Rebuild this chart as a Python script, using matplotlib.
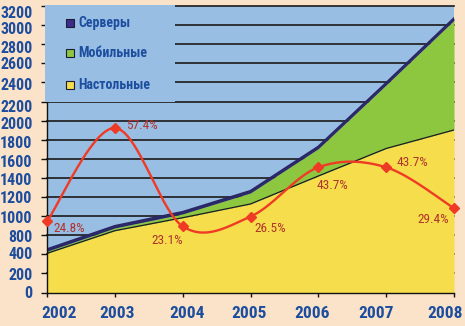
import numpy as np
import matplotlib
matplotlib.use("Agg")
import matplotlib.pyplot as plt
from matplotlib.patches import Rectangle
from matplotlib.transforms import ScaledTranslation

# --- data -------------------------------------------------------------
years = [2002, 2003, 2004, 2005, 2006, 2007, 2008]
desktop = [410, 647, 783, 927, 1220, 1508, 1702]
mobile = [22, 29, 40, 116, 287, 666, 1149]
servers = [20, 20, 20, 20, 20, 20, 20]
growth_pct = [24.8, 57.4, 23.1, 26.5, 43.7, 43.7, 29.4]

series_names = ["Серверы", "Мобильные", "Настольные"]
ytick_labels = ["0", "200", "400", "800", "1000", "1200", "1400", "1600",
                "1800", "2000", "2200", "2400", "2600", "2800", "3000", "3200"]

# --- style ------------------------------------------------------------
BG = "#FBE3C9"
PLOT_BG = "#99BEE3"
YELLOW = "#F5DD4B"
GREEN = "#8DC63F"
NAVY = "#2A2766"
SERVER_SQ = "#3B2E86"
RED = "#EF3B25"
PCT_TXT = "#B0322C"
AXIS_TXT = "#1C4D9E"
NARROW = ["Roboto Condensed", "Open Sans Condensed", "Liberation Sans"]

fig = plt.figure(figsize=(4.65, 3.26), dpi=100, facecolor=BG)
ax = fig.add_axes([47 / 465, 1 - 292.5 / 326, (454 - 47) / 465, (292.5 - 6) / 326])
ax.set_facecolor(PLOT_BG)

x = np.array(years, dtype=float)
d = np.array(desktop, dtype=float)
m = np.array(mobile, dtype=float)
s = np.array(servers, dtype=float)

# stacked areas
ax.fill_between(x, 0, d, color=YELLOW, lw=0, zorder=1)
ax.fill_between(x, d, d + m, color=GREEN, lw=0, zorder=1)
ax.fill_between(x, d + m, d + m + s, color=NAVY, lw=0, zorder=1)
ax.plot(x, d, color="#1E1E1E", lw=0.9, zorder=1.5)
ax.plot(x, d + m + s, color=NAVY, lw=1.6, zorder=1.5)

# y axis: evenly spaced ticks carrying the printed labels
ticks = np.arange(len(ytick_labels)) * 200
ax.set_yticks(ticks)
ax.set_yticklabels(ytick_labels)
ax.set_ylim(0, ticks[-1])
ax.set_xlim(years[0], years[-1])
ax.set_xticks(years)
ax.set_xticklabels([str(y) for y in years])

for t in ticks[1:]:
    ax.axhline(t, color="#1A1A1A", lw=1.2, zorder=0.5, clip_on=False)

ax.spines["right"].set_visible(False)
ax.spines["top"].set_visible(False)
for side in ("left", "bottom"):
    ax.spines[side].set_color("#111111")
    ax.spines[side].set_linewidth(1.0)

ax.tick_params(axis="y", length=4, width=1, color="#111111", pad=6.5,
               labelcolor=AXIS_TXT, labelsize=11.5)
ax.tick_params(axis="x", length=3, width=1, color="#111111", pad=6.5,
               labelcolor=AXIS_TXT, labelsize=12.5)

# label nudges in pixels
ylab_dy = [0, -1, 1, -1, -1, 0, -1, -2, -2, -2, -4, -2, 0, -3, -3, -6]
xlab_dx = [12.2, 2.3, 4.7, -1.2, -6.3, -9.7, -9.3]
for lab, dy in zip(ax.get_yticklabels(), ylab_dy):
    lab.set_family(NARROW)
    lab.set_fontweight("bold")
    lab.set_transform(lab.get_transform() +
                      ScaledTranslation(0, dy / 100, fig.dpi_scale_trans))
for lab, dx in zip(ax.get_xticklabels(), xlab_dx):
    lab.set_family(NARROW)
    lab.set_fontweight("bold")
    lab.set_transform(lab.get_transform() +
                      ScaledTranslation(dx / 100, 0, fig.dpi_scale_trans))

# legend block in the upper-left corner
ax.add_patch(Rectangle((-0.004, 0.665), 0.319, 0.34, transform=ax.transAxes,
                       facecolor=PLOT_BG, edgecolor="none", zorder=3, clip_on=False))
legend_colors = [SERVER_SQ, GREEN, YELLOW]
legend_y = [1 - (23 - 6) / 286.5, 1 - (53 - 6) / 286.5, 1 - (85 - 6) / 286.5]
for name, col, ly in zip(series_names, legend_colors, legend_y):
    ax.plot([(70 - 47) / 407], [ly], marker="s", ms=5.2, mfc=col, mec="#1B1B3A",
            mew=0.8, transform=ax.transAxes, zorder=4, clip_on=False)
    ax.text((78 - 47) / 407, ly, name, transform=ax.transAxes, ha="left",
            va="center", color=AXIS_TXT, fontsize=10, fontweight="bold",
            family=NARROW, zorder=4)


# growth curve on its own percentage scale
def smooth_curve(xs, ys, n=40):
    xs = np.asarray(xs, float)
    ys = np.asarray(ys, float)
    px, py = [], []
    k = len(xs)
    for i in range(k - 1):
        i0, i3 = max(i - 1, 0), min(i + 2, k - 1)
        p0 = np.array([xs[i0], ys[i0]])
        p1 = np.array([xs[i], ys[i]])
        p2 = np.array([xs[i + 1], ys[i + 1]])
        p3 = np.array([xs[i3], ys[i3]])
        c1 = p1 + (p2 - p0) / 6
        c2 = p2 - (p3 - p1) / 6
        t = np.linspace(0, 1, n)[:, None]
        seg = ((1 - t) ** 3) * p1 + 3 * ((1 - t) ** 2) * t * c1 + \
            3 * (1 - t) * t ** 2 * c2 + t ** 3 * p2
        px.extend(seg[:, 0])
        py.extend(seg[:, 1])
    return np.array(px), np.array(py)


ax2 = ax.twinx()
ax2.set_ylim(0, 100)
ax2.set_xlim(years[0], years[-1])
ax2.axis("off")
cx, cy = smooth_curve(years, growth_pct)
ax2.plot(cx, cy, color=RED, lw=1.7, zorder=4, clip_on=False)
ax2.plot(years, growth_pct, ls="none", marker="D", ms=5.5, color=RED,
         zorder=5, clip_on=False)

# value labels: (dx, dy) in pixels, horizontal alignment
label_offsets = [(6, -6.6, "left"), (11, 2.7, "left"), (0, -14, "right"),
                 (4, -11.6, "left"), (-2, -18, "left"), (10, 5, "left"),
                 (-4.7, -11, "right")]
for yr, v, (dx, dy, ha) in zip(years, growth_pct, label_offsets):
    ax2.annotate(f"{v:.1f}%", (yr, v), xytext=(dx * 0.72, dy * 0.72),
                 textcoords="offset points", ha=ha, va="center",
                 color=PCT_TXT, fontsize=9.5, family=NARROW, zorder=6,
                 annotation_clip=False)

fig.savefig("out.png", dpi=100, facecolor=BG)
